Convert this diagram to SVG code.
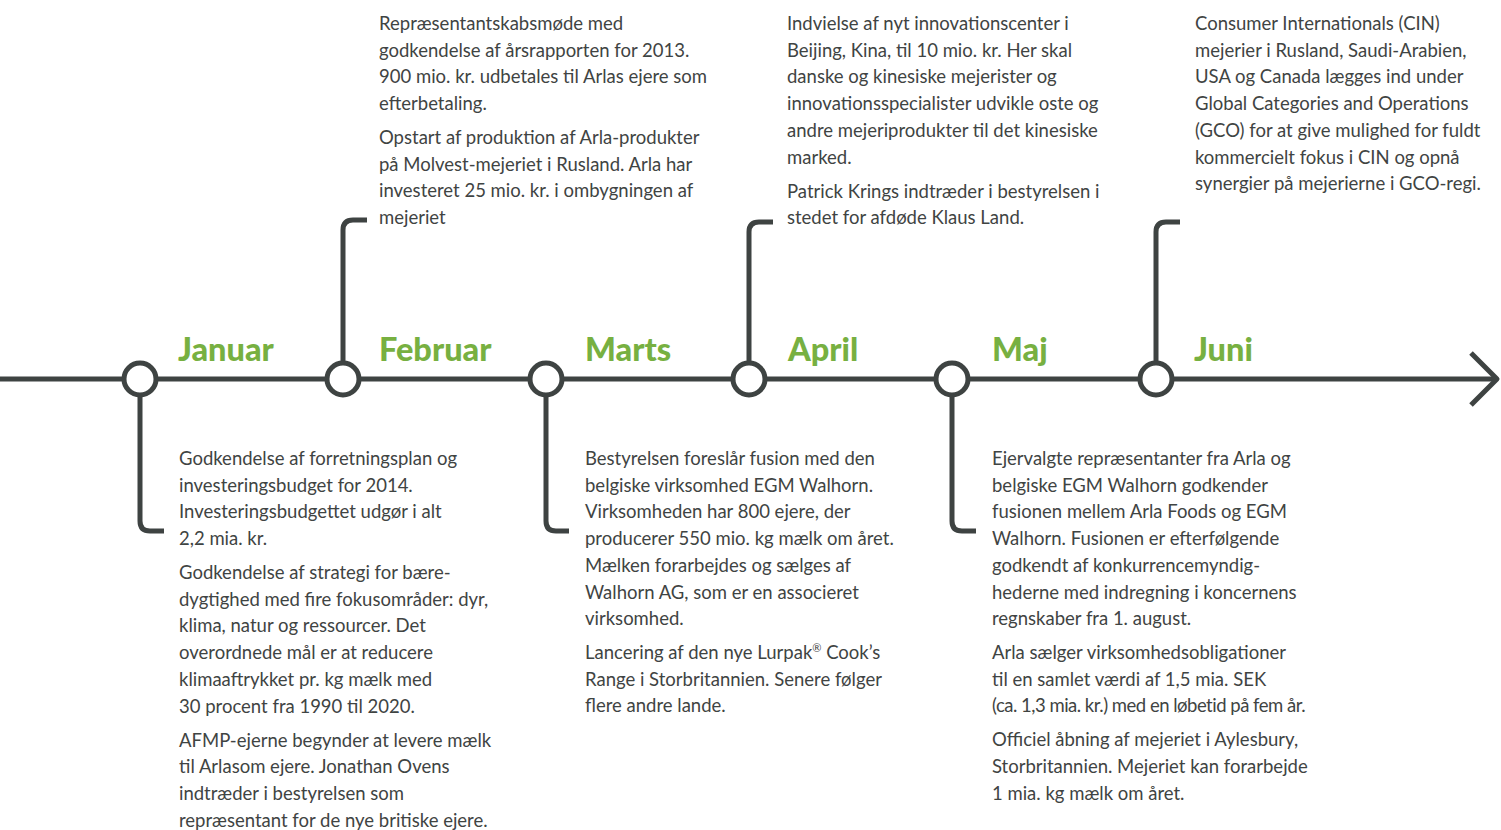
<svg xmlns="http://www.w3.org/2000/svg" width="1501" height="830" viewBox="0 0 1501 830">
<style>
.ln{fill:none;stroke:#3e4342;stroke-width:5;stroke-linecap:butt}
.nd{fill:#fff;stroke:#3e4342;stroke-width:5}
.mo{font-family:Lato,"Open Sans",sans-serif;font-weight:900;font-size:32.5px;fill:#77b041}
.tx{font-family:Lato,"Open Sans",sans-serif;font-weight:400;font-size:18.5px;fill:#3f4443}
</style>
<rect width="1501" height="830" fill="#fff"/>
<g id="connectors">
<path class="ln" d="M0,379 H1497"/>
<path class="ln" d="M1471,353 L1497,379 L1471,405" stroke-linecap="round" stroke-linejoin="round"/>
<path class="ln" d="M140,395 V521 Q140,531 150,531 H164"/>
<path class="ln" d="M343,363 V230 Q343,220 353,220 H367"/>
<path class="ln" d="M546,395 V521 Q546,531 556,531 H569"/>
<path class="ln" d="M749,363 V232 Q749,222 759,222 H773"/>
<path class="ln" d="M952,395 V521 Q952,531 962,531 H976"/>
<path class="ln" d="M1156,363 V232 Q1156,222 1166,222 H1180"/>
</g>
<g id="januar">
<circle class="nd" cx="140" cy="379" r="16"/>
<text class="mo" x="178" y="361">Januar</text>
<text class="tx"><tspan x="179" y="465">Godkendelse af forretningsplan og</tspan><tspan x="179" y="491.7">investeringsbudget for 2014.</tspan><tspan x="179" y="518.4">Investeringsbudgettet udgør  i alt</tspan><tspan x="179" y="545.1">2,2 mia. kr.</tspan><tspan x="179" y="579">Godkendelse af strategi for bære-</tspan><tspan x="179" y="605.7">dygtighed med fire fokusområder: dyr,</tspan><tspan x="179" y="632.4">klima, natur og ressourcer. Det</tspan><tspan x="179" y="659.1">overordnede mål er at reducere</tspan><tspan x="179" y="685.8">klimaaftrykket pr. kg mælk med</tspan><tspan x="179" y="712.5">30 procent fra 1990 til 2020.</tspan><tspan x="179" y="746.5">AFMP-ejerne begynder at levere mælk</tspan><tspan x="179" y="773.2">til Arlasom ejere. Jonathan Ovens</tspan><tspan x="179" y="799.9">indtræder i bestyrelsen som</tspan><tspan x="179" y="826.6">repræsentant for de nye britiske ejere.</tspan></text>
</g>
<g id="februar">
<circle class="nd" cx="343" cy="379" r="16"/>
<text class="mo" x="379" y="361">Februar</text>
<text class="tx"><tspan x="379" y="30">Repræsentantskabsmøde med</tspan><tspan x="379" y="56.7">godkendelse af årsrapporten for 2013.</tspan><tspan x="379" y="83.4">900 mio. kr. udbetales til Arlas ejere som</tspan><tspan x="379" y="110.1">efterbetaling.</tspan><tspan x="379" y="144">Opstart af produktion af Arla-produkter</tspan><tspan x="379" y="170.7">på Molvest-mejeriet i Rusland. Arla har</tspan><tspan x="379" y="197.4">investeret 25 mio. kr. i ombygningen af</tspan><tspan x="379" y="224.1">mejeriet</tspan></text>
</g>
<g id="marts">
<circle class="nd" cx="546" cy="379" r="16"/>
<text class="mo" x="585" y="361">Marts</text>
<text class="tx"><tspan x="585" y="465">Bestyrelsen foreslår fusion med den</tspan><tspan x="585" y="491.7">belgiske virksomhed EGM Walhorn.</tspan><tspan x="585" y="518.4">Virksomheden har 800 ejere, der</tspan><tspan x="585" y="545.1">producerer 550 mio. kg mælk om året.</tspan><tspan x="585" y="571.8">Mælken forarbejdes og sælges af</tspan><tspan x="585" y="598.5">Walhorn AG, som er en associeret</tspan><tspan x="585" y="625.2">virksomhed.</tspan><tspan x="585" y="659">Lancering af den nye Lurpak<tspan font-size="11" dy="-7">®</tspan><tspan dy="7"> Cook’s</tspan></tspan><tspan x="585" y="685.7">Range i Storbritannien. Senere følger</tspan><tspan x="585" y="712.4">flere andre lande.</tspan></text>
</g>
<g id="april">
<circle class="nd" cx="749" cy="379" r="16"/>
<text class="mo" x="788" y="361">April</text>
<text class="tx"><tspan x="787" y="30">Indvielse af nyt innovationscenter i</tspan><tspan x="787" y="56.7">Beijing, Kina, til 10 mio. kr. Her skal</tspan><tspan x="787" y="83.4">danske og kinesiske mejerister og</tspan><tspan x="787" y="110.1">innovationsspecialister udvikle oste og</tspan><tspan x="787" y="136.8">andre mejeriprodukter til det kinesiske</tspan><tspan x="787" y="163.5">marked.</tspan><tspan x="787" y="197.5">Patrick Krings indtræder i bestyrelsen i</tspan><tspan x="787" y="224.2">stedet for afdøde Klaus Land.</tspan></text>
</g>
<g id="maj">
<circle class="nd" cx="952" cy="379" r="16"/>
<text class="mo" x="992" y="361">Maj</text>
<text class="tx"><tspan x="992" y="465">Ejervalgte repræsentanter fra Arla og</tspan><tspan x="992" y="491.7">belgiske EGM Walhorn godkender</tspan><tspan x="992" y="518.4">fusionen mellem Arla Foods og EGM</tspan><tspan x="992" y="545.1">Walhorn. Fusionen er efterfølgende</tspan><tspan x="992" y="571.8">godkendt af konkurrencemyndig-</tspan><tspan x="992" y="598.5">hederne med indregning i koncernens</tspan><tspan x="992" y="625.2">regnskaber fra 1. august.</tspan><tspan x="992" y="659">Arla sælger virksomhedsobligationer</tspan><tspan x="992" y="685.7">til en samlet værdi af 1,5 mia. SEK</tspan><tspan x="992" y="712.4" letter-spacing="-0.5">(ca. 1,3 mia. kr.) med en løbetid på fem år.</tspan><tspan x="992" y="746.4">Officiel åbning af mejeriet i Aylesbury,</tspan><tspan x="992" y="773.1">Storbritannien. Mejeriet kan forarbejde</tspan><tspan x="992" y="799.8">1 mia. kg mælk om året.</tspan></text>
</g>
<g id="juni">
<circle class="nd" cx="1156" cy="379" r="16"/>
<text class="mo" x="1194" y="361">Juni</text>
<text class="tx"><tspan x="1195" y="30">Consumer Internationals (CIN)</tspan><tspan x="1195" y="56.7">mejerier i Rusland, Saudi-Arabien,</tspan><tspan x="1195" y="83.4">USA og Canada lægges ind under</tspan><tspan x="1195" y="110.1">Global Categories and Operations</tspan><tspan x="1195" y="136.8">(GCO) for at give mulighed for fuldt</tspan><tspan x="1195" y="163.5">kommercielt fokus i CIN og opnå</tspan><tspan x="1195" y="190.2">synergier på mejerierne i GCO-regi.</tspan></text>
</g>
</svg>
